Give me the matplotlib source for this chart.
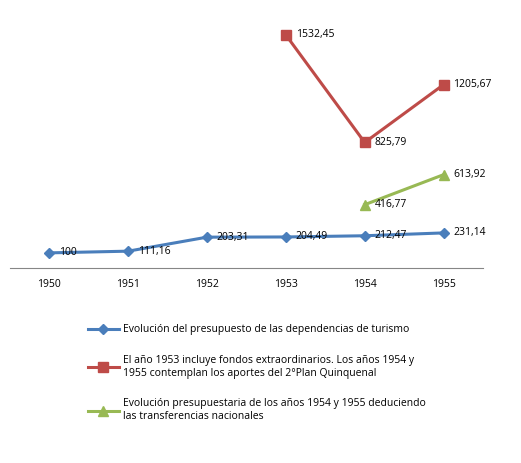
import matplotlib
matplotlib.use("Agg")
import matplotlib.pyplot as plt

years = ["1950", "1951", "1952", "1953", "1954", "1955"]
s1 = [100, 111.16, 203.31, 204.49, 212.47, 231.14]
s2_years = ["1953", "1954", "1955"]
s2 = [1532.45, 825.79, 1205.67]
s3_years = ["1954", "1955"]
s3 = [416.77, 613.92]
labels = ["Evolución del presupuesto de las dependencias de turismo",
          "El año 1953 incluye fondos extraordinarios. Los años 1954 y\n1955 contemplan los aportes del 2°Plan Quinquenal",
          "Evolución presupuestaria de los años 1954 y 1955 deduciendo\nlas transferencias nacionales"]

plt.rcParams['font.family'] = ['Open Sans', 'DejaVu Sans']
fig = plt.figure(figsize=(5.21, 4.63), dpi=100)
ax = fig.add_axes([0.019, 0.421, 0.908, 0.575])
x = {y: i for i, y in enumerate(years)}
l1, = ax.plot([x[y] for y in years], s1, color="#4A7EBB", lw=2.2, marker="D", ms=5)
l2, = ax.plot([x[y] for y in s2_years], s2, color="#BE4B48", lw=2.2, marker="s", ms=7)
l3, = ax.plot([x[y] for y in s3_years], s3, color="#98B954", lw=2.2, marker="^", ms=7)

def fmt(v):
    return ("%.2f" % v).replace(".", ",") if v != int(v) else str(int(v))

for ys, vs in [(years, s1), (s2_years, s2), (s3_years, s3)]:
    for y, v in zip(ys, vs):
        ax.annotate(fmt(v), (x[y], v), xytext=(7, 0), textcoords="offset points",
                    va="center", ha="left", fontsize=7.5, color="#000000")

ax.set_xlim(-0.5, 5.5)
ax.set_ylim(0, 1750)
ax.set_xticks(range(len(years)))
ax.set_xticklabels(years, fontsize=7.5)
ax.set_yticks([])
for s in ["top", "right", "left"]:
    ax.spines[s].set_visible(False)
ax.spines["bottom"].set_color("#868686")
ax.tick_params(axis="x", length=0, pad=8)

fig.legend([l1, l2, l3], labels, loc="upper left", bbox_to_anchor=(0.15, 0.32),
           frameon=False, fontsize=7.5, handlelength=3, labelspacing=1.9,
           handletextpad=0.4)
fig.savefig("out.png", dpi=100)
